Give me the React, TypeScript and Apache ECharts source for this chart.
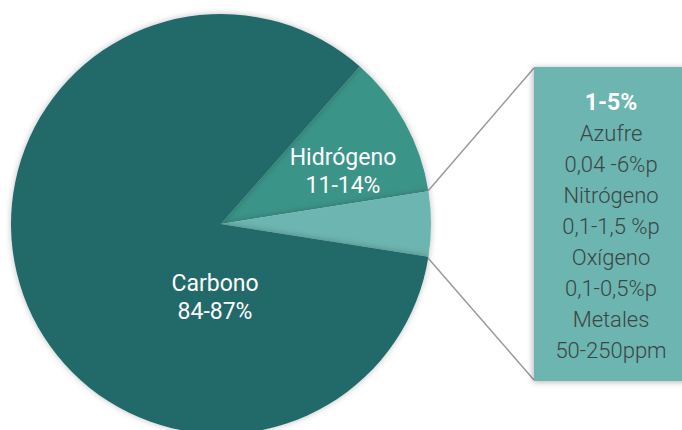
import React, { useEffect, useRef } from "react";
import * as echarts from "echarts";

// Composición elemental del petróleo crudo
const elements = ["Hidrógeno", "Otros", "Carbono"];
const shares = [11, 5, 84];
const ranges = ["11-14%", "1-5%", "84-87%"];
const sliceColors = ["#3a9488", "#6cb5b0", "#246b6a"];

// Desglose del grupo "Otros"
const otherNames = ["Azufre", "Nitrógeno", "Oxígeno", "Metales"];
const otherRanges = ["0,04 -6%p", "0,1-1,5 %p", "0,1-0,5%p", "50-250ppm"];

const FONT = "Roboto, 'Noto Sans', sans-serif";

export default function App() {
  const ref = useRef<HTMLDivElement>(null);

  useEffect(() => {
    document.body.style.margin = "0";
    if (!ref.current) return;
    const chart = echarts.init(ref.current, null, { renderer: "svg" });

    const cx = 221;
    const cy = 224;
    const r = 210;

    const detailText =
      `{head|${ranges[1]}}\n` +
      otherNames.map((n, i) => `{body|${n}}\n{body|${otherRanges[i]}}`).join("\n");

    chart.setOption({
      animation: false,
      series: [
        {
          type: "pie",
          center: [cx, cy],
          radius: [0, r],
          startAngle: 48.6,
          clockwise: true,
          silent: true,
          label: { show: false },
          labelLine: { show: false },
          itemStyle: {
            shadowBlur: 6,
            shadowColor: "rgba(0,0,0,0.25)",
          },
          data: elements.map((name, i) => ({
            name,
            value: shares[i],
            itemStyle: { color: sliceColors[i] },
          })),
        },
      ],
      graphic: [
        {
          type: "line",
          shape: { x1: 428, y1: 191, x2: 534, y2: 68 },
          style: { stroke: "#9a9a9a", lineWidth: 1.5 },
          z: 5,
        },
        {
          type: "line",
          shape: { x1: 428, y1: 258, x2: 534, y2: 380 },
          style: { stroke: "#9a9a9a", lineWidth: 1.5 },
          z: 5,
        },
        {
          type: "rect",
          shape: { x: 534, y: 67, width: 160, height: 314 },
          style: {
            fill: sliceColors[1],
            shadowBlur: 6,
            shadowColor: "rgba(0,0,0,0.3)",
            shadowOffsetX: -1,
            shadowOffsetY: 1,
          },
          z: 6,
        },
        {
          type: "text",
          x: 611,
          y: 87,
          z: 7,
          style: {
            text: detailText,
            align: "center",
            verticalAlign: "top",
            rich: {
              head: {
                fontFamily: FONT,
                fontSize: 23,
                fontWeight: "bold",
                fill: "#ffffff",
                lineHeight: 31,
                align: "center",
              },
              body: {
                fontFamily: FONT,
                fontSize: 22,
                fontWeight: 300,
                fill: "#3b4646",
                lineHeight: 31,
                align: "center",
              },
            },
          },
        },
        {
          type: "text",
          x: 343,
          y: 171,
          z: 7,
          style: {
            text: `${elements[0]}\n${ranges[0]}`,
            align: "center",
            verticalAlign: "middle",
            fontFamily: FONT,
            fontSize: 23,
            lineHeight: 28,
            fill: "#ffffff",
          },
        },
        {
          type: "text",
          x: 215,
          y: 297,
          z: 7,
          style: {
            text: `${elements[2]}\n${ranges[2]}`,
            align: "center",
            verticalAlign: "middle",
            fontFamily: FONT,
            fontSize: 23,
            lineHeight: 28,
            fill: "#ffffff",
          },
        },
      ],
    });

    return () => chart.dispose();
  }, []);

  return (
    <div
      ref={ref}
      style={{ position: "absolute", left: 0, top: 0, width: 682, height: 430, background: "#ffffff" }}
    />
  );
}
